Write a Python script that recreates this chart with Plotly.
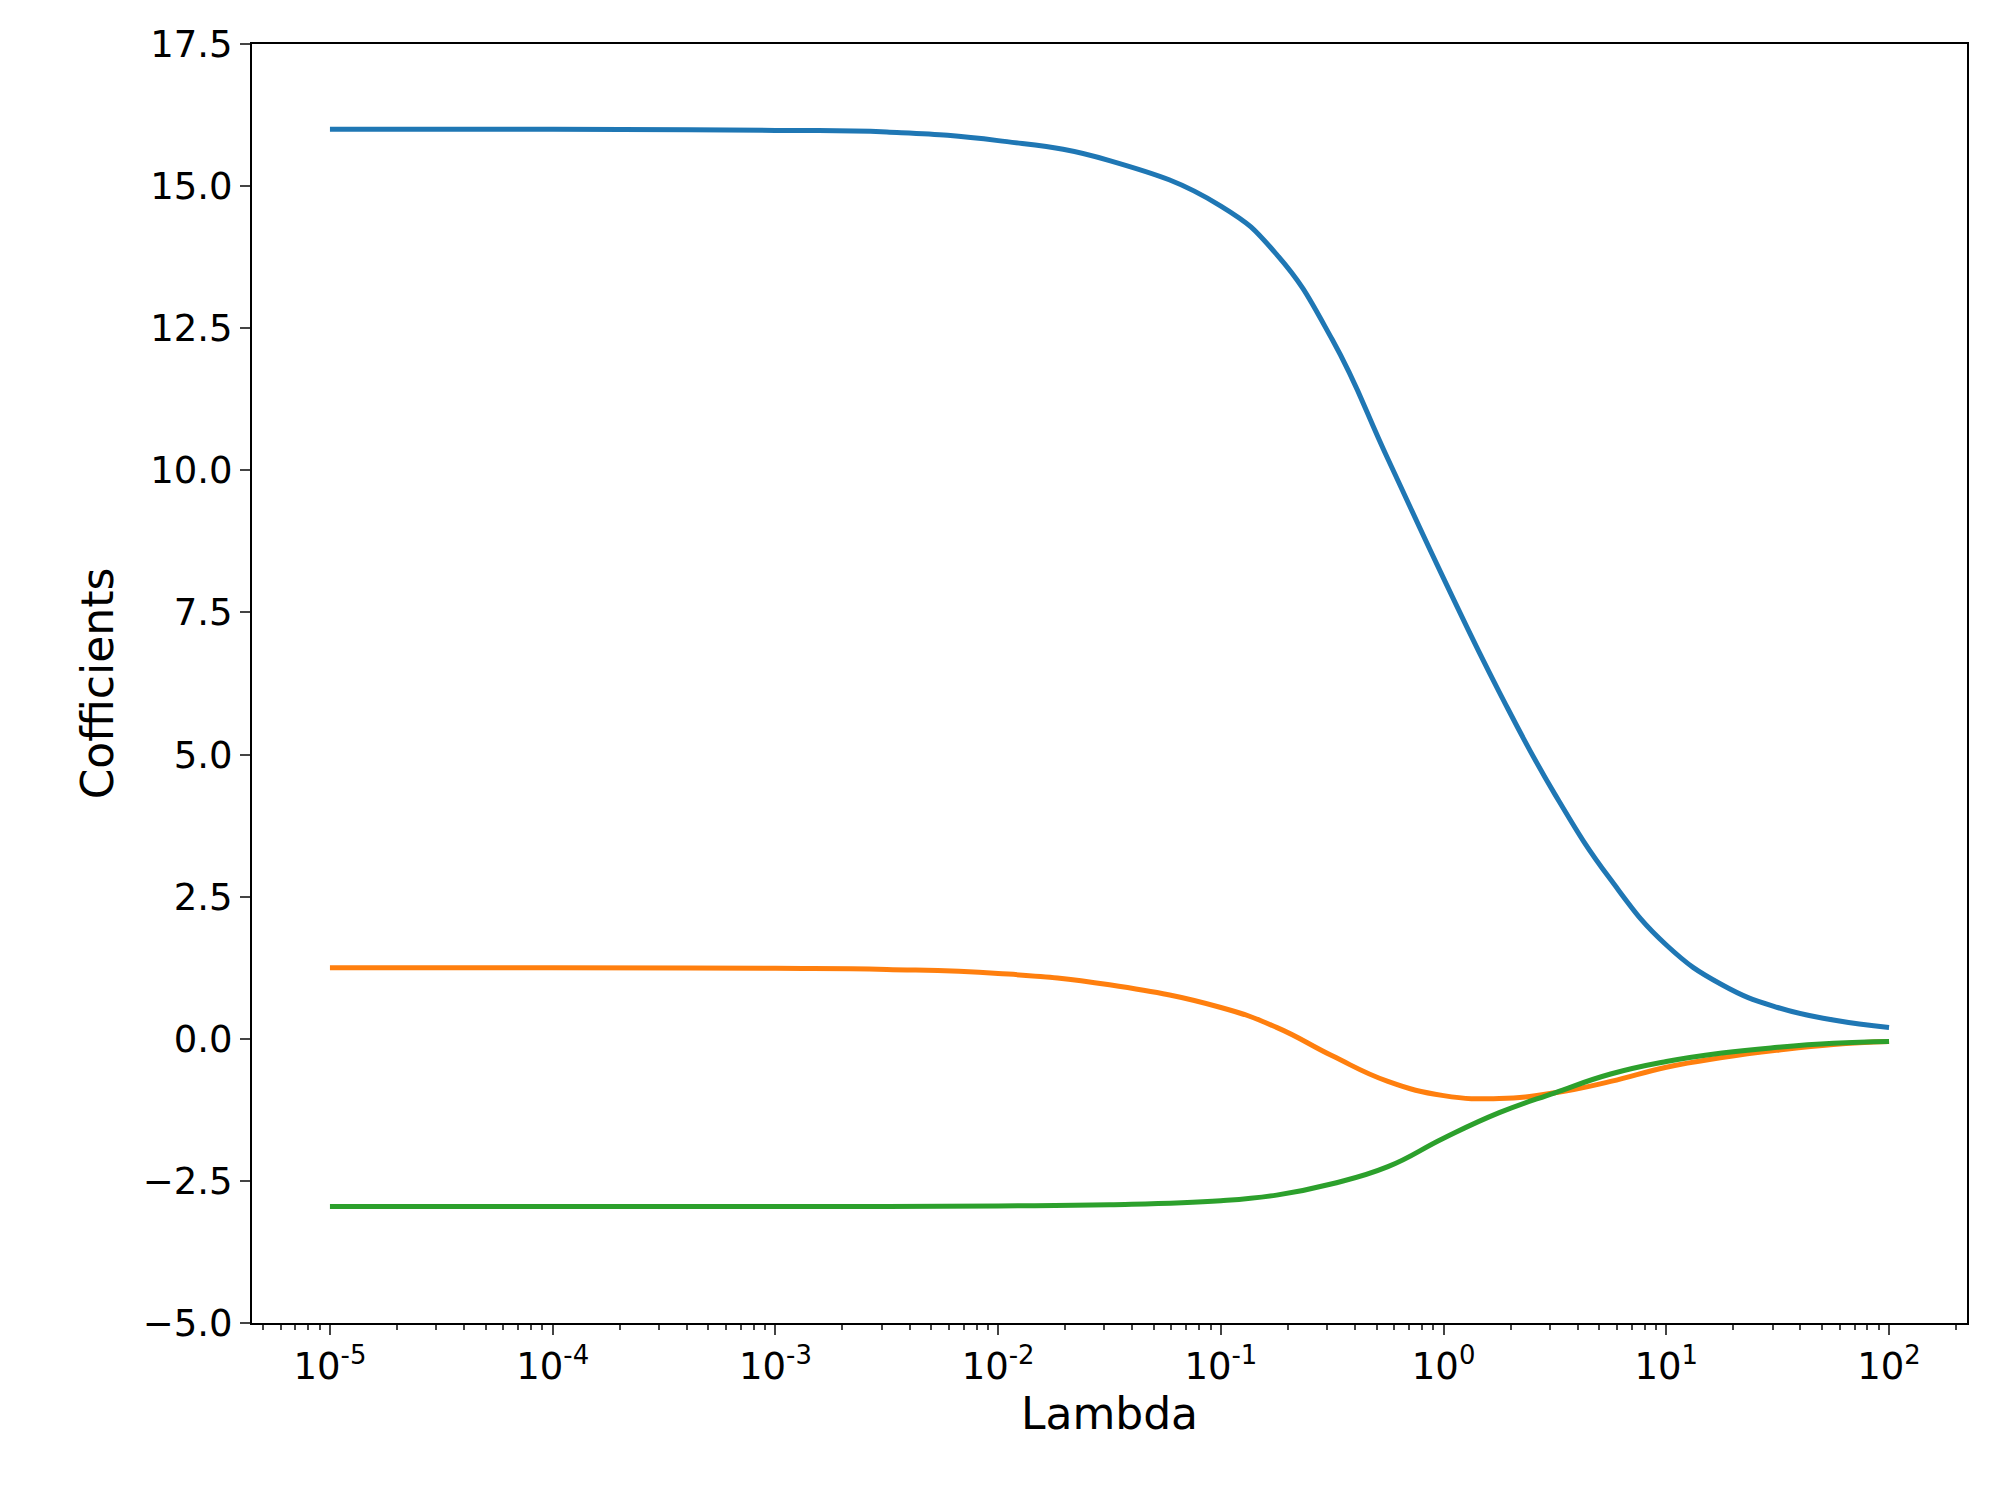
import plotly.graph_objects as go

log_lambda = [-5, -4, -3, -2.5, -2, -1.5, -1, -0.75, -0.5, -0.25, 0, 0.25, 0.5, 0.75, 1, 1.25, 1.5, 1.75, 2]
coef_blue = [16.0, 16.0, 15.98, 15.95, 15.8, 15.45, 14.65, 13.8, 12.3, 10.2, 8.1, 6.1, 4.3, 2.8, 1.65, 0.95, 0.55, 0.33, 0.2]
coef_orange = [1.25, 1.25, 1.24, 1.22, 1.15, 0.95, 0.55, 0.2, -0.3, -0.75, -1.0, -1.05, -0.95, -0.75, -0.5, -0.33, -0.2, -0.1, -0.05]
coef_green = [-2.95, -2.95, -2.95, -2.95, -2.94, -2.92, -2.85, -2.75, -2.55, -2.25, -1.75, -1.3, -0.95, -0.62, -0.4, -0.25, -0.15, -0.08, -0.05]
colors = ["#1f77b4", "#ff7f0e", "#2ca02c"]
tick_exps = [-5, -4, -3, -2, -1, 0, 1, 2]

x = [10 ** v for v in log_lambda]
fig = go.Figure()
for ys, c in zip([coef_blue, coef_orange, coef_green], colors):
    fig.add_trace(go.Scatter(x=x, y=ys, mode="lines", line=dict(color=c, width=5, shape="spline", smoothing=1.3), showlegend=False))

minor_vals = [m * 10 ** e for e in range(-6, 3) for m in range(2, 10)]
fig.update_layout(
    width=2000, height=1505, plot_bgcolor="white", paper_bgcolor="white",
    margin=dict(l=244, r=41, t=36, b=190),
    font=dict(family="DejaVu Sans", size=37, color="black"),
    xaxis=dict(type="log", range=[-5.35, 2.35], tickvals=[10 ** e for e in tick_exps],
               ticktext=[f"10<sup>{e}</sup>" for e in tick_exps],
               ticks="outside", ticklen=10, tickwidth=2, showgrid=False, zeroline=False,
               showline=True, linecolor="black", linewidth=2, mirror=True,
               minor=dict(ticks="outside", ticklen=5, tickwidth=1.5, tickvals=minor_vals, showgrid=False),
               title=dict(text="Lambda", standoff=10)),
    yaxis=dict(range=[-5, 17.5], tickvals=[-5, -2.5, 0, 2.5, 5, 7.5, 10, 12.5, 15, 17.5],
               ticktext=["\u22125.0", "\u22122.5", "0.0", "2.5", "5.0", "7.5", "10.0", "12.5", "15.0", "17.5"],
               ticks="outside", ticklen=10, tickwidth=2, showgrid=False, zeroline=False,
               showline=True, linecolor="black", linewidth=2, mirror=True,
               title=dict(text="Cofficients", standoff=15)),
)
fig.write_html("out.html")
